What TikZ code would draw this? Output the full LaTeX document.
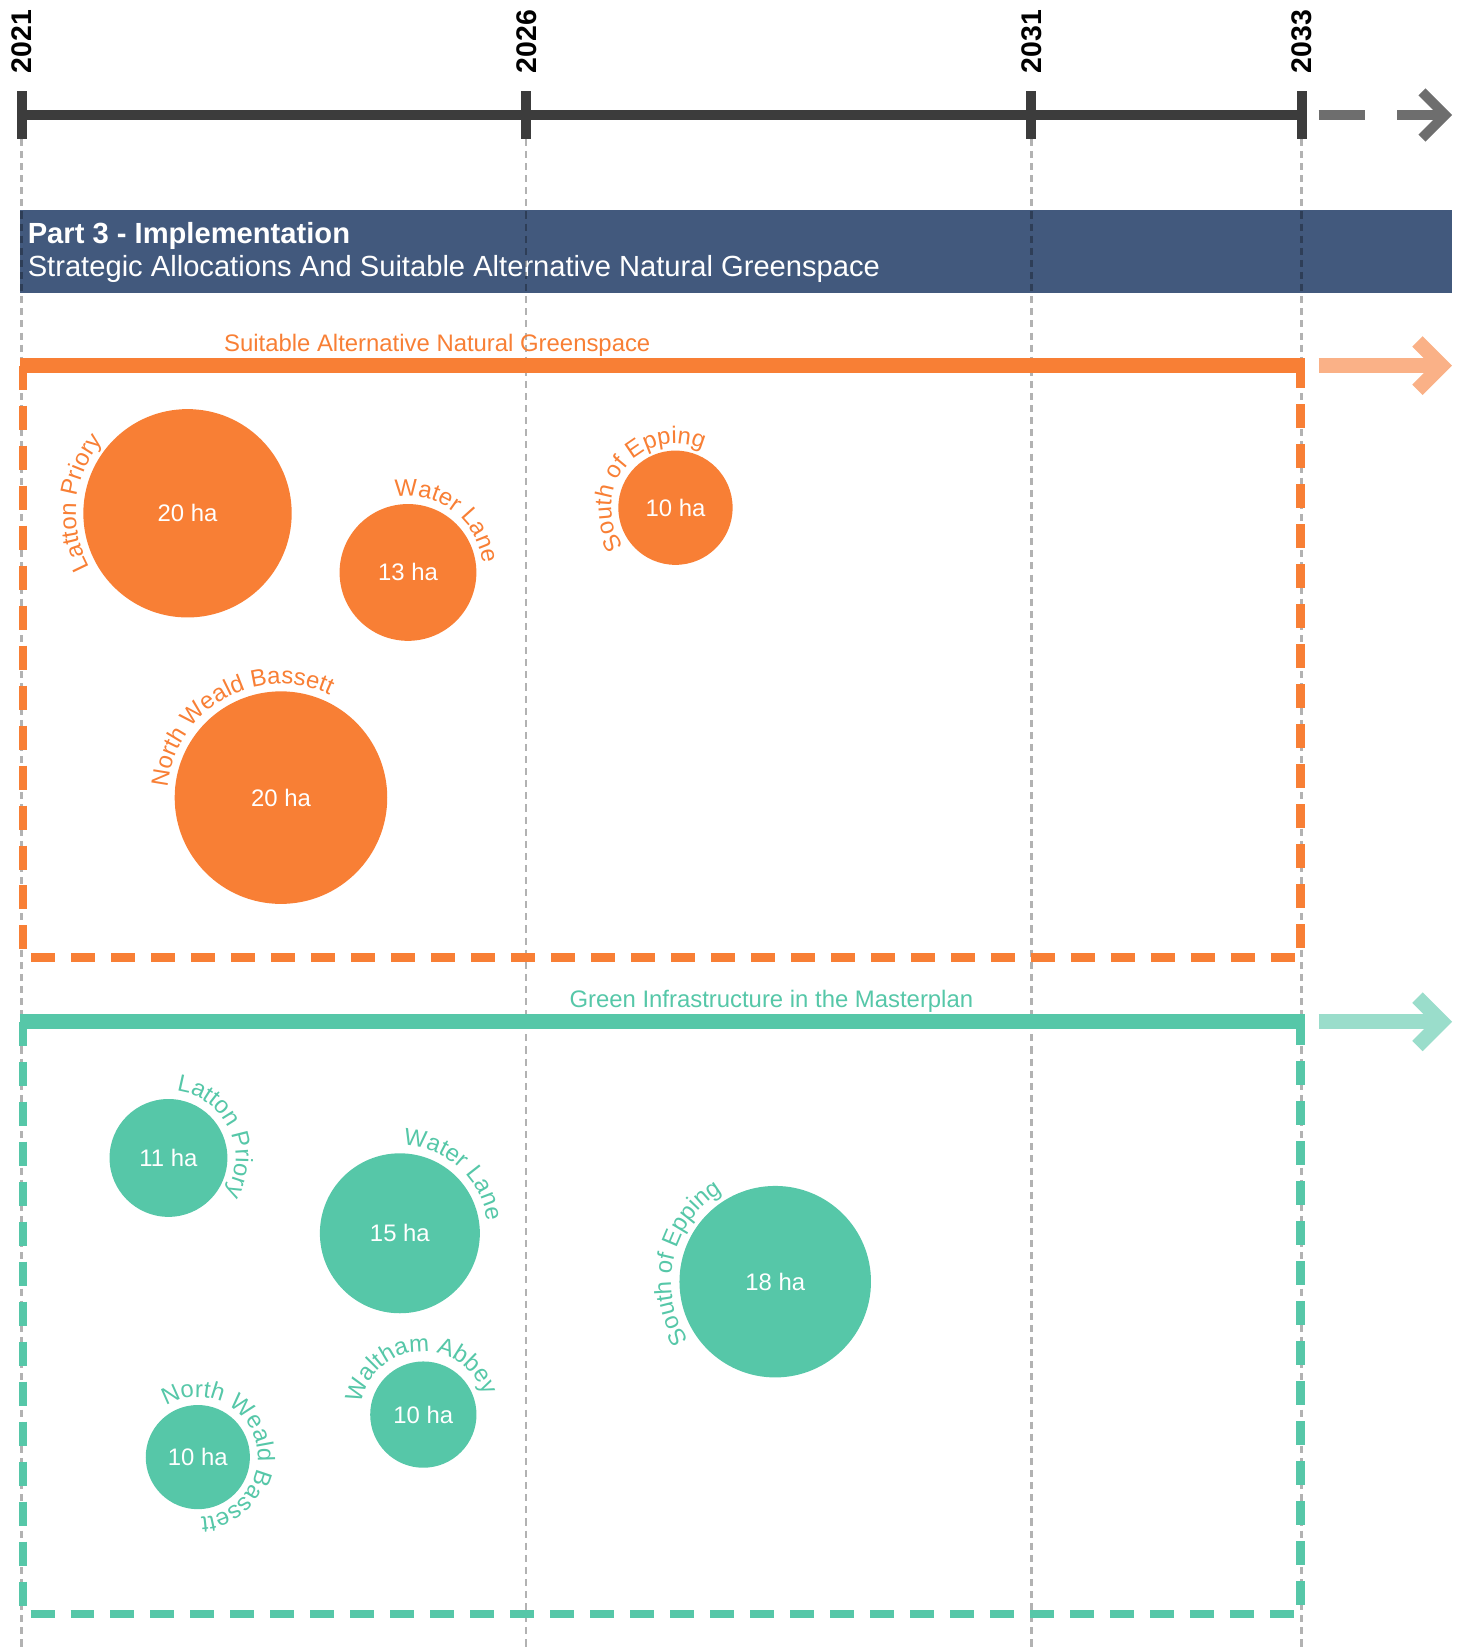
\documentclass[tikz,border=0pt]{standalone}
\usepackage{fontspec}
\setmainfont{Liberation Sans}
\usetikzlibrary{decorations.text}
\definecolor{orng}{HTML}{F87F35}
\definecolor{lorng}{HTML}{FAB187}
\definecolor{grn}{HTML}{56C7A8}
\definecolor{lgrn}{HTML}{9ADDCB}
\definecolor{navy}{HTML}{42597D}
\definecolor{tline}{HTML}{3C3C3C}
\definecolor{tarrow}{HTML}{6E6E6E}
\newcommand{\arcfont}{\fontsize{22.7}{26}\selectfont}
\begin{document}
\begin{tikzpicture}[x=1pt,y=1pt,
  yearlbl/.style={rotate=90, anchor=base west, inner sep=0, font=\fontsize{27}{30}\selectfont\bfseries},
  tickmark/.style={draw=tline, line width=9.5},
  guide/.style={draw=black, draw opacity=0.3, line width=2.4, dash pattern=on 6.7 off 4.8},
  circ/.style={circle, inner sep=0, text=white, font=\fontsize{22.7}{26}\selectfont},
  boxdash/.style={line width=8, dash pattern=on 22.8 off 15.2, line join=miter},
  barline/.style={line width=14},
  chev/.style={line width=14, line join=miter},
  section/.style={anchor=base, inner sep=0, font=\fontsize{22.7}{26}\selectfont},
  bannertxt/.style={anchor=base west, inner sep=0, text=white, font=\fontsize{27.7}{32}\selectfont},
  arclbl/.style={decorate, decoration={text along path, text align=left, text color=#1}}
]
\useasboundingbox (0,0) rectangle (1393,1568);

% banner
\node[fill=navy, anchor=north west, minimum width=1361.1, minimum height=79.2, inner sep=0] (banner) at (18.9,1368.5) {};
\node[bannertxt, font=\fontsize{27.7}{32}\selectfont\bfseries] (bt1) at (26.2,1337) {Part 3 - Implementation};
\node[bannertxt] (bt2) at (26.2,1305) {Strategic Allocations And Suitable Alternative Natural Greenspace};

% guides
\foreach \gx/\gn in {20.5/g1, 500/g2, 980/g3, 1237/g4} {
  \coordinate (\gn top) at (\gx,1436);
  \coordinate (\gn bot) at (\gx,0);
  \draw[guide] (\gn top) -- (\gn bot);
}

% timeline
\coordinate (t1) at (20.5,1458.7);
\coordinate (t2) at (500,1458.7);
\coordinate (t3) at (980,1458.7);
\coordinate (t4) at (1237,1458.7);
\draw[draw=tline, line width=9.5] (t1) -- (t4);
\foreach \tx in {20.5, 500, 980, 1237} {
  \draw[tickmark] (\tx,1481.5) -- (\tx,1436);
}
\node[yearlbl] (y1) at (30,1498.3) {2021};
\node[yearlbl] (y2) at (509.5,1498.3) {2026};
\node[yearlbl] (y3) at (989.5,1498.3) {2031};
\node[yearlbl] (y4) at (1246.5,1498.3) {2033};

% timeline continuation arrow
\coordinate (ta1) at (1253,1458.7);
\coordinate (ta2) at (1297,1458.7);
\coordinate (ta3) at (1328,1458.7);
\coordinate (ta4) at (1373.3,1458.7);
\draw[draw=tarrow, line width=9.5] (ta1) -- (ta2);
\draw[draw=tarrow, line width=9.5] (ta3) -- (ta4);
\draw[draw=tarrow, line width=9.5, line join=miter] ([shift={(-22,22)}]ta4) -- (ta4) -- ([shift={(-22,-22)}]ta4);

% orange section
\coordinate (os) at (19,1220.5);
\coordinate (oe) at (1240,1220.5);
\draw[orng, barline] (os) -- (oe);
\draw[orng, boxdash] (22,1220.5) -- (22,658) -- (1236,658) -- (1236,1220.5);
\node[section, text=orng] (olbl) at (415.5,1234) {Suitable Alternative Natural Greenspace};
\coordinate (oa1) at (1253,1220.5);
\coordinate (oa2) at (1370,1220.5);
\draw[lorng, barline] (oa1) -- (oa2);
\draw[lorng, chev] ([shift={(-23,23)}]oa2) -- (oa2) -- ([shift={(-23,-23)}]oa2);

% green section
\coordinate (gs) at (19,597);
\coordinate (ge) at (1240,597);
\draw[grn, barline] (gs) -- (ge);
\draw[grn, boxdash] (22,597) -- (22,34) -- (1236,34) -- (1236,597);
\node[section, text=grn] (glbl) at (733,611) {Green Infrastructure in the Masterplan};
\coordinate (ga1) at (1253,597);
\coordinate (ga2) at (1370,597);
\draw[lgrn, barline] (ga1) -- (ga2);
\draw[lgrn, chev] ([shift={(-23,23)}]ga2) -- (ga2) -- ([shift={(-23,-23)}]ga2);

% orange circles
\node[circ, fill=orng, minimum size=198] (o1) at (178.2,1080.2) {20 ha};
\node[circ, fill=orng, minimum size=130] (o2) at (387.7,1024) {13 ha};
\node[circ, fill=orng, minimum size=108.6] (o3) at (641.9,1085.5) {10 ha};
\node[circ, fill=orng, minimum size=202] (o4) at (267,810) {20 ha};

\path[arclbl=orng, decoration={text={|\arcfont|Latton Priory}}] (o1.center) ++(209:106) arc[start angle=209, end angle=-91, radius=106];
\path[arclbl=orng, decoration={text={|\arcfont|Water Lane}}] (o2.center) ++(100:72) arc[start angle=100, end angle=-200, radius=72];
\path[arclbl=orng, decoration={text={|\arcfont|South of Epping}}] (o3.center) ++(216.7:61) arc[start angle=216.7, end angle=-83.3, radius=61];
\path[arclbl=orng, decoration={text={|\arcfont|North Weald Bassett}}] (o4.center) ++(175:108) arc[start angle=175, end angle=-125, radius=108];

% green circles
\node[circ, fill=grn, minimum size=112] (c1) at (160.1,467.6) {11 ha};
\node[circ, fill=grn, minimum size=152] (c2) at (380,396) {15 ha};
\node[circ, fill=grn, minimum size=182] (c3) at (736.7,350) {18 ha};
\node[circ, fill=grn, minimum size=99] (c4) at (188,183.3) {10 ha};
\node[circ, fill=grn, minimum size=101] (c5) at (402.3,223.7) {10 ha};

\path[arclbl=grn, decoration={text={|\arcfont|Latton Priory}}] (c1.center) ++(83:64) arc[start angle=83, end angle=-217, radius=64];
\path[arclbl=grn, decoration={text={|\arcfont|Water Lane}}] (c2.center) ++(88:84) arc[start angle=88, end angle=-212, radius=84];
\path[arclbl=grn, decoration={text={|\arcfont|South of Epping}}] (c3.center) ++(214:99) arc[start angle=214, end angle=-86, radius=99];
\path[arclbl=grn, decoration={text={|\arcfont|North Weald Bassett}}] (c4.center) ++(122:57) arc[start angle=122, end angle=-178, radius=57];
\path[arclbl=grn, decoration={text={|\arcfont|Waltham Abbey}}] (c5.center) ++(170:60) arc[start angle=170, end angle=-130, radius=60];
\end{tikzpicture}
\end{document}
